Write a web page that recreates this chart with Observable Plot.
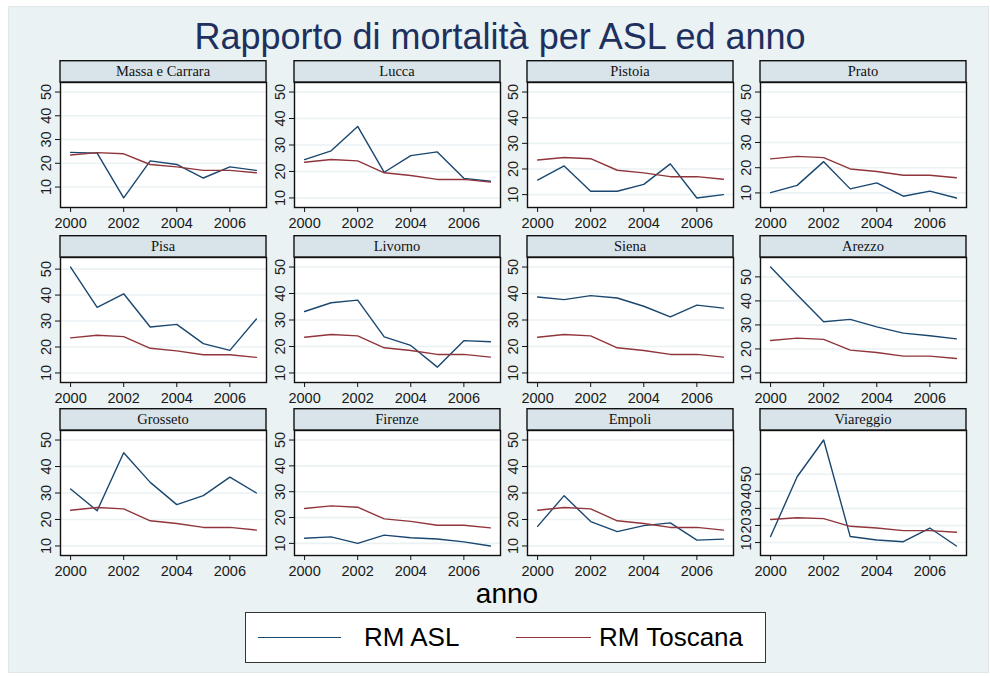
<!DOCTYPE html>
<html>
<head>
<meta charset="utf-8">
<script src="https://cdn.jsdelivr.net/npm/d3@7"></script>
<script src="https://cdn.jsdelivr.net/npm/@observablehq/plot@0.6"></script>
<style>
  body { margin: 0; background: #ffffff; }
  #chart { position: relative; width: 990px; height: 676px; font-family: "Liberation Sans", Arial, sans-serif; overflow: hidden; }
  #bg { position: absolute; left: 8px; top: 6px; width: 979px; height: 665px; background: #eaf2f3; border: 1px solid #dfe7e9; }
  #title { position: absolute; left: 0; width: 1000px; top: 14px; text-align: center; font-size: 36px; line-height: 46px; color: #1e305e; }
  .panel { position: absolute; }
  #xtitle { position: absolute; left: 507px; transform: translateX(-50%); white-space: nowrap; top: 580px; font-size: 28px; line-height: 28px; color: #000; }
  #legend { position: absolute; left: 245px; top: 612px; width: 519px; height: 49px; background: #fff; border: 1px solid #333; }
  .lg-line { position: absolute; top: 24px; height: 0; border-top: 1.6px solid; }
  .lg-text { position: absolute; top: 8px; font-size: 26px; line-height: 32px; color: #000; }
</style>
</head>
<body>
<div id="chart">
  <div id="bg"></div>
  <div id="title">Rapporto di mortalità per ASL ed anno</div>
  <div id="xtitle">anno</div>
  <div id="legend"></div>
</div>
<script>
// ---- data ----
const years = [2000, 2001, 2002, 2003, 2004, 2005, 2006, 2007];
const xTicks = [2000, 2002, 2004, 2006];
const yTicks = [10, 20, 30, 40, 50];
const aslNames = ["Massa e Carrara", "Lucca", "Pistoia", "Prato", "Pisa", "Livorno", "Siena", "Arezzo", "Grosseto", "Firenze", "Empoli", "Viareggio"];
const seriesNames = ["RM ASL", "RM Toscana"];

const rmToscana    = [23.5, 24.5, 24.0, 19.5, 18.5, 17.0, 17.0, 16.0];
const massaCarrara = [24.6, 24.3, 5.4, 21.0, 19.5, 13.8, 18.5, 17.0];
const lucca        = [24.5, 27.8, 37.0, 19.7, 26.0, 27.4, 17.4, 16.3];
const pistoia      = [15.7, 21.2, 11.3, 11.3, 14.0, 22.0, 8.7, 10.0];
const prato        = [10.1, 13.0, 22.4, 11.6, 14.0, 8.7, 10.7, 8.0];
const pisa         = [50.8, 35.3, 40.5, 27.7, 28.7, 21.3, 18.7, 30.8];
const livorno      = [33.2, 36.5, 37.5, 23.6, 20.4, 12.2, 22.2, 21.8];
const siena        = [38.7, 37.7, 39.2, 38.3, 35.2, 31.2, 35.6, 34.5];
const arezzo       = [54.1, 42.6, 31.3, 32.3, 29.2, 26.6, 25.5, 24.2];
const grosseto     = [31.5, 23.3, 45.2, 34.0, 25.6, 29.0, 36.0, 30.0];
const firenze      = [12.0, 12.5, 10.0, 13.2, 12.2, 11.7, 10.6, 9.0];
const empoli       = [17.4, 29.0, 19.2, 15.4, 17.7, 18.7, 12.2, 12.6];
const viareggio    = [13.5, 48.5, 70.0, 13.5, 11.5, 10.5, 18.5, 8.0];

const aslSeries = [massaCarrara, lucca, pistoia, prato, pisa, livorno, siena, arezzo, grosseto, firenze, empoli, viareggio];

// ---- styles ----
const blue = "#1a476f";
const red = "#90353b";
const plotX0 = [60, 294, 527, 760];
const rowTop = [60, 235, 408];
const mL = 30, mR = 2, mT = 22, mB = 28, pW = 206, pH = 125;

const chart = document.getElementById("chart");

aslNames.forEach((name, i) => {
  const vals = aslSeries[i];
  const table = years.flatMap((yr, j) => [
    {anno: yr, value: vals[j], serie: seriesNames[0]},
    {anno: yr, value: rmToscana[j], serie: seriesNames[1]}
  ]);
  const all = vals.concat(rmToscana);
  const lo0 = Math.min(10, d3.min(all));
  const hi0 = Math.max(50, d3.max(all));
  const pad = 0.09 * (hi0 - lo0);

  const plot = Plot.plot({
    width: mL + pW + mR,
    height: mT + pH + mB,
    marginLeft: mL, marginRight: mR, marginTop: mT, marginBottom: mB,
    style: {background: "transparent", fontFamily: "'Liberation Sans', Arial, sans-serif", fontSize: "14.5px", color: "#1a1a1a", overflow: "visible"},
    x: {domain: [1999.62, 2007.38]},
    y: {domain: [lo0 - pad, hi0 + pad]},
    color: {domain: seriesNames, range: [blue, red]},
    marks: [
      Plot.frame({fill: "white", stroke: "none"}),
      Plot.gridY(yTicks, {stroke: "#eaf2f3", strokeOpacity: 1, strokeWidth: 1.6}),
      Plot.line(table, {x: "anno", y: "value", z: "serie", stroke: "serie", strokeWidth: 1.4}),
      Plot.frame({stroke: "#111", strokeWidth: 1.4}),
      Plot.axisX({ticks: xTicks, tickFormat: d => String(d), tickSize: 5, tickPadding: 5, label: null, stroke: "#111"}),
      Plot.axisY({ticks: yTicks, tickRotate: -90, tickSize: 5, tickPadding: 5, label: null, stroke: "#111"})
    ]
  });

  const svg = d3.select(plot);
  svg.append("rect")
    .attr("x", mL).attr("y", 0.7)
    .attr("width", pW).attr("height", mT - 0.7)
    .attr("fill", "#d9e4ea").attr("stroke", "#111").attr("stroke-width", 1.4);
  svg.append("text")
    .attr("x", mL + pW / 2).attr("y", mT / 2 + 5)
    .attr("text-anchor", "middle")
    .attr("font-family", "'Liberation Serif', 'Times New Roman', serif")
    .attr("font-size", 14.5)
    .attr("fill", "#111")
    .text(name);

  const wrap = document.createElement("div");
  wrap.className = "panel";
  wrap.style.left = (plotX0[i % 4] - mL) + "px";
  wrap.style.top = rowTop[Math.floor(i / 4)] + "px";
  wrap.appendChild(plot);
  chart.appendChild(wrap);
});

// legend
const legend = document.getElementById("legend");
const legItems = [
  {label: seriesNames[0], color: blue, x1: 12, x2: 95, tx: 118},
  {label: seriesNames[1], color: red, x1: 270, x2: 345, tx: 353}
];
legItems.forEach(it => {
  const ln = document.createElement("div");
  ln.className = "lg-line";
  ln.style.left = it.x1 + "px";
  ln.style.width = (it.x2 - it.x1) + "px";
  ln.style.borderTopColor = it.color;
  legend.appendChild(ln);
  const tx = document.createElement("div");
  tx.className = "lg-text";
  tx.style.left = it.tx + "px";
  tx.textContent = it.label;
  legend.appendChild(tx);
});
</script>
</body>
</html>
